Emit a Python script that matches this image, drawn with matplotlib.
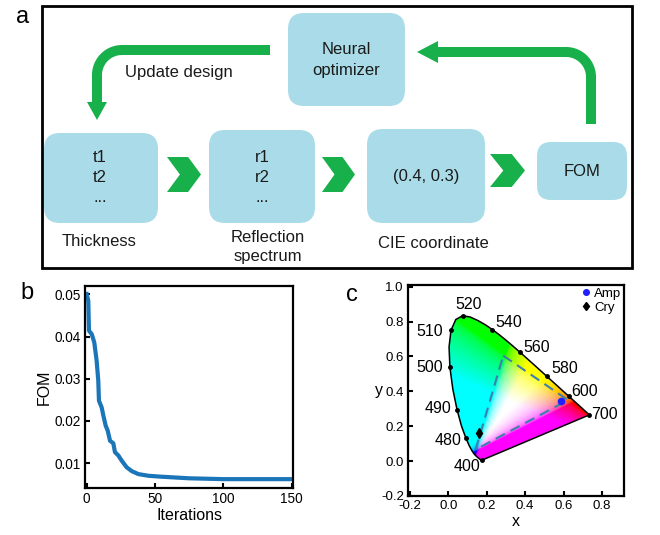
import numpy as np
import matplotlib
matplotlib.use("Agg")
import matplotlib.pyplot as plt
from matplotlib.patches import FancyBboxPatch, Polygon, Rectangle

plt.rcParams['font.family'] = ['Liberation Sans', 'DejaVu Sans']

# ---------------- data ----------------
# panel b: optimisation history
iterations = [0, 1.2, 1.7, 3.7, 5.6, 7.3, 8.5, 9.0, 11, 12.2, 13.9, 15.4, 17.1, 19.5,
              20.7, 23.2, 25.6, 29.3, 33, 37.8, 45.1, 53.6, 75, 100, 150]
fom = [0.0501, 0.0485, 0.0414, 0.0406, 0.0386, 0.0343, 0.0296, 0.0248, 0.0232,
       0.0213, 0.0189, 0.0177, 0.0153, 0.0147, 0.0126, 0.0118, 0.0106, 0.0090,
       0.0081, 0.0074, 0.0070, 0.0068, 0.0064, 0.0062, 0.0062]

# panel c: CIE 1931 spectral locus
wavelengths = [400, 410, 420, 430, 440, 450, 460, 465, 470, 475, 480, 485, 490, 495,
               500, 505, 510, 515, 520, 525, 530, 535, 540, 545, 550, 555, 560, 565,
               570, 575, 580, 585, 590, 595, 600, 605, 610, 620, 630, 640, 650, 660,
               680, 700]
locus_x = [0.1733, 0.1726, 0.1714, 0.1689, 0.1644, 0.1566, 0.1440, 0.1355, 0.1241,
           0.1096, 0.0913, 0.0687, 0.0454, 0.0235, 0.0082, 0.0039, 0.0139, 0.0389,
           0.0743, 0.1142, 0.1547, 0.1929, 0.2296, 0.2658, 0.3016, 0.3373, 0.3731,
           0.4087, 0.4441, 0.4788, 0.5125, 0.5448, 0.5752, 0.6029, 0.6270, 0.6482,
           0.6658, 0.6915, 0.7079, 0.7190, 0.7260, 0.7300, 0.7334, 0.7347]
locus_y = [0.0048, 0.0048, 0.0051, 0.0069, 0.0109, 0.0177, 0.0297, 0.0399, 0.0578,
           0.0868, 0.1327, 0.2007, 0.2950, 0.4127, 0.5384, 0.6548, 0.7502, 0.8120,
           0.8338, 0.8262, 0.8059, 0.7816, 0.7543, 0.7243, 0.6923, 0.6589, 0.6245,
           0.5896, 0.5547, 0.5202, 0.4866, 0.4544, 0.4242, 0.3965, 0.3725, 0.3514,
           0.3340, 0.3083, 0.2920, 0.2809, 0.2740, 0.2700, 0.2666, 0.2653]
marked_wl = [400, 480, 490, 500, 510, 520, 540, 560, 580, 600, 700]
gamut_x = [0.286, 0.623, 0.142]
gamut_y = [0.605, 0.350, 0.066]
amp_xy = (0.585, 0.344)
cry_xy = (0.161, 0.160)

# ---------------- figure ----------------
fig = plt.figure(figsize=(6.6, 5.35), dpi=100)
ax0 = fig.add_axes([0, 0, 1, 1])
ax0.set_xlim(0, 660)
ax0.set_ylim(535, 0)
ax0.axis('off')

box_c = '#a9dce8'
green = '#17b04a'
fs_a = 12

ax0.add_patch(Rectangle((42, 6), 590, 262, fill=False, lw=2.0, ec='black'))

def rbox(x0, y0, x1, y1, r=16):
    ax0.add_patch(FancyBboxPatch((x0, y0), x1 - x0, y1 - y0,
                                 boxstyle=f"round,pad=0,rounding_size={r}",
                                 fc=box_c, ec='none'))

rbox(288, 13, 405, 106)
rbox(44, 133, 158, 223)
rbox(209, 130, 315, 223)
rbox(367, 129, 485, 223)
rbox(537, 142, 627, 200, r=14)

def chevron(x0, x1, y0, y1):
    w = x1 - x0
    ym = (y0 + y1) / 2
    pts = [(x0, y0), (x0 + 0.62 * w, y0), (x1, ym), (x0 + 0.62 * w, y1), (x0, y1),
           (x0 + 0.38 * w, ym)]
    ax0.add_patch(Polygon(pts, closed=True, fc=green, ec='none'))

chevron(167, 201, 157, 192)
chevron(322, 355, 157, 192)
chevron(490, 525, 154, 187)

# curved arrows
lw_arrow = 7.2
t = np.radians(np.linspace(-90, -180, 30))
cx, cy, r = 122, 75, 25
xs = np.concatenate([[270], cx + r * np.cos(t), [97]])
ys = np.concatenate([[50], cy + r * np.sin(t), [103]])
ax0.plot(xs, ys, color=green, lw=lw_arrow, solid_capstyle='butt', solid_joinstyle='round')
ax0.add_patch(Polygon([(87, 102), (107, 102), (97, 120)], closed=True, fc=green, ec='none'))

t = np.radians(np.linspace(0, -90, 30))
cx, cy, r = 566, 77, 25
xs = np.concatenate([[591], cx + r * np.cos(t), [437]])
ys = np.concatenate([[124], cy + r * np.sin(t), [52]])
ax0.plot(xs, ys, color=green, lw=lw_arrow, solid_capstyle='butt', solid_joinstyle='round')
ax0.add_patch(Polygon([(438, 41), (438, 63), (417, 52)], closed=True, fc=green, ec='none'))

tk = dict(ha='center', va='center', fontsize=fs_a, color='#1a1a1a')
ax0.text(346, 50, 'Neural', **tk)
ax0.text(346, 70, 'optimizer', **tk)
ax0.text(100, 157, 't1', **tk)
ax0.text(100, 178, 't2', **tk)
ax0.text(100, 198, '...', **tk)
ax0.text(262, 157, 'r1', **tk)
ax0.text(262, 178, 'r2', **tk)
ax0.text(262, 198, '...', **tk)
ax0.text(426, 177, '(0.4, 0.3)', **tk)
ax0.text(582, 172, 'FOM', **tk)
ax0.text(179, 72, 'Update design', **tk)
ax0.text(99, 242, 'Thickness', **tk)
ax0.text(268, 237, 'Reflection', **tk)
ax0.text(268, 257, 'spectrum', **tk)
ax0.text(433, 243, 'CIE coordinate', **tk)

ax0.text(23, 17, 'a', ha='center', va='center', fontsize=17)
ax0.text(27, 293, 'b', ha='center', va='center', fontsize=17)
ax0.text(352, 295, 'c', ha='center', va='center', fontsize=17)

# ---------------- panel b ----------------
axb = fig.add_axes([85 / 660, 1 - 488 / 535, 208 / 660, 202 / 535])
axb.plot(iterations, fom, color='#1b75b9', lw=3.0, solid_joinstyle='round')
axb.set_xlim(-1.2, 150.9)
axb.set_ylim(0.0041, 0.0520)
axb.set_xticks([0, 50, 100, 150])
axb.set_yticks([0.01, 0.02, 0.03, 0.04, 0.05])
axb.set_yticklabels(['0.01', '0.02', '0.03', '0.04', '0.05'])
axb.tick_params(direction='in', length=3.5, width=1.5, labelsize=9.8, pad=3)
for s in axb.spines.values():
    s.set_linewidth(1.6)
axb.set_xlabel('Iterations', fontsize=11.5, labelpad=1)
axb.set_ylabel('FOM', fontsize=11.5, labelpad=2)

# ---------------- panel c ----------------
axc = fig.add_axes([408 / 660, 1 - 496 / 535, 216 / 660, 211 / 535])
axc.set_xlim(-0.21, 0.915)
axc.set_ylim(-0.2, 1.01)

gx = np.linspace(0.0, 0.75, 400)
gy = np.linspace(0.0, 0.85, 400)
GX, GY = np.meshgrid(gx, gy)
yy = np.maximum(GY, 1e-4)
lum = 1.15
X = lum * GX / yy
Z = lum * (1 - GX - GY) / yy
M = np.array([[3.2406, -1.5372, -0.4986],
              [-0.9689, 1.8758, 0.0415],
              [0.0557, -0.2040, 1.0570]])
XYZ = np.stack([X, np.full_like(X, lum), Z], axis=-1)
RGB = XYZ @ M.T
RGB = np.clip(RGB, 0, 1) ** (1 / 2.2)
im = axc.imshow(RGB, origin='lower', extent=(gx[0], gx[-1], gy[0], gy[-1]),
                aspect='auto', interpolation='bilinear', zorder=1)
locus_poly = Polygon(np.column_stack([locus_x, locus_y]), closed=True,
                     transform=axc.transData, fc='none', ec='none')
axc.add_patch(locus_poly)
im.set_clip_path(locus_poly)
axc.plot(locus_x + [locus_x[0]], locus_y + [locus_y[0]], color='black', lw=1.1, zorder=3)

mx = [locus_x[wavelengths.index(w)] for w in marked_wl]
my = [locus_y[wavelengths.index(w)] for w in marked_wl]
axc.plot(mx, my, 'o', color='black', ms=2.5, zorder=4)
label_pos = {400: (0.095, -0.032), 480: (0.0, 0.119), 490: (-0.052, 0.302),
             500: (-0.095, 0.539), 510: (-0.095, 0.741), 520: (0.104, 0.898),
             540: (0.317, 0.794), 560: (0.462, 0.652), 580: (0.606, 0.529),
             600: (0.71, 0.40), 700: (0.814, 0.268)}
for w in marked_wl:
    axc.text(*label_pos[w], str(w), ha='center', va='center', fontsize=11.5, zorder=5)

axc.plot(gamut_x + [gamut_x[0]], gamut_y + [gamut_y[0]], ls=(0, (5, 3)),
         color='#3f7fae', lw=1.5, zorder=4)
axc.plot(*amp_xy, 'o', color='#1f1fff', ms=4.5, zorder=6, ls='none', label='Amp')
axc.plot(*cry_xy, 'd', color='black', ms=5, zorder=6, ls='none', label='Cry')
axc.legend(loc='upper right', frameon=False, fontsize=9.5, handlelength=0.6,
           handletextpad=0.3, labelspacing=0.15, borderaxespad=0.1,
           borderpad=0.1, markerscale=0.9)

axc.set_xticks([-0.2, 0.0, 0.2, 0.4, 0.6, 0.8])
axc.set_yticks([-0.2, 0.0, 0.2, 0.4, 0.6, 0.8, 1.0])
axc.set_xticklabels(['-0.2', '0.0', '0.2', '0.4', '0.6', '0.8'])
axc.set_yticklabels(['-0.2', '0.0', '0.2', '0.4', '0.6', '0.8', '1.0'])
axc.tick_params(direction='in', length=3.5, width=1.5, labelsize=9.5, pad=3)
for s in axc.spines.values():
    s.set_linewidth(1.6)
axc.set_xlabel('x', fontsize=11.5, labelpad=1)
axc.set_ylabel('y', fontsize=11.5, rotation=0, labelpad=0, va='center')
axc.yaxis.set_label_coords(-0.135, 0.5)

fig.savefig('out.png', dpi=100)
